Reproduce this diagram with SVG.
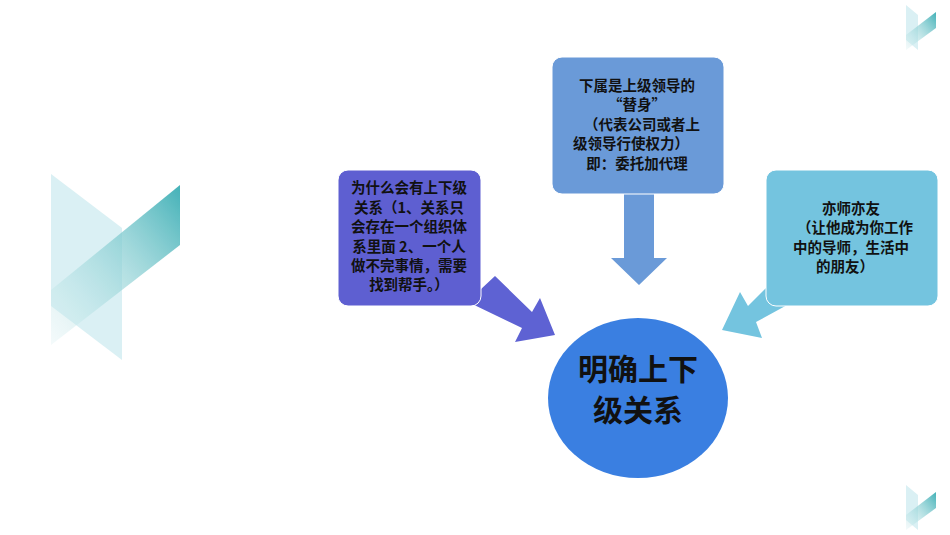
<svg xmlns="http://www.w3.org/2000/svg" width="950" height="535" viewBox="0 0 950 535">
<defs>
<linearGradient id="g1" x1="0" y1="1" x2="1" y2="0"><stop offset="0" stop-color="#d8f0f2" stop-opacity="0.3"/><stop offset="1" stop-color="#2fa9b0"/></linearGradient>
</defs>
<style>
.t{font-family:"Noto Sans CJK SC","Liberation Sans",sans-serif;font-weight:bold;font-size:14.5px;fill:#111;text-anchor:middle}
.c{font-size:30px}
</style>
<rect width="950" height="535" fill="#fff"/>
<g id="deco" opacity="0.9">
<polygon points="51,174 122,228 122,360 51,306" fill="#d6eff3"/>
<polygon points="51,290 180,185 180,245 51,345" fill="url(#g1)"/>
<polygon points="906,5 918,15 918,50 906,40" fill="#d6eff3"/>
<polygon points="906,35 936,12 936,28 906,50" fill="url(#g1)"/>
<polygon points="906,485 918,495 918,530 906,520" fill="#d6eff3"/>
<polygon points="906,515 936,492 936,508 906,530" fill="url(#g1)"/>
</g>
<g id="connectors">
<polygon points="624,193 654,193 654,258 667,258 639,285 611,258 624,258" fill="#6a9ad8"/>
<polygon points="480,290 495,276 532,312 540,298 555,335 515,342 522,328 468,302" fill="#5e62d3"/>
<polygon points="790,288 778,276 748,306 740,292 722,330 762,338 756,322 800,298" fill="#74c4df"/>
</g>
<g id="n1"><rect x="338" y="170" width="143" height="136" rx="10" fill="#5e5fd1" stroke="#fff"/>
<text class="t" x="409" y="193">为什么会有上下级</text><text class="t" x="409" y="213">关系（1、关系只</text><text class="t" x="409" y="232">会存在一个组织体</text><text class="t" x="409" y="252">系里面 2、一个人</text><text class="t" x="409" y="271">做不完事情，需要</text><text class="t" x="409" y="290">找到帮手。）</text></g>
<g id="n2"><rect x="552" y="57" width="172" height="137" rx="10" fill="#6a9ad8" stroke="#fff"/>
<text class="t" x="637" y="91">下属是上级领导的</text><text class="t" x="637" y="110">“替身”</text><text class="t" x="642" y="130">（代表公司或者上</text><text class="t" x="631" y="149">级领导行使权力）</text><text class="t" x="637" y="169">即：委托加代理</text></g>
<g id="n3"><rect x="766" y="170" width="172" height="136" rx="10" fill="#74c4df" stroke="#fff"/>
<text class="t" x="851" y="214">亦师亦友</text><text class="t" x="855" y="233">（让他成为你工作</text><text class="t" x="851" y="253">中的导师，生活中</text><text class="t" x="845" y="272">的朋友）</text></g>
<g id="center"><ellipse cx="638" cy="398" rx="90" ry="80" fill="#3a7fe1"/>
<text class="t c" x="638" y="380">明确上下</text><text class="t c" x="638" y="421">级关系</text></g>
</svg>
